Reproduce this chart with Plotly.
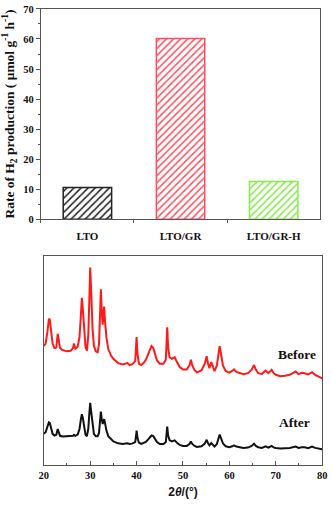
import plotly.graph_objects as go

# H2 production rate per sample (μmol g^-1 h^-1)
samples = ["LTO", "LTO/GR", "LTO/GR-H"]
rates = [10.6, 60.2, 12.6]
bar_colors = ["#222222", "#ff4f5f", "#86ea4c"]

# XRD patterns: 2θ (degrees) and offset-stacked intensities (a.u.)
two_theta = [20, 20.4, 20.8, 21.1, 21.3, 21.6, 21.9, 22.3, 22.7, 23.0, 23.2, 23.5, 24, 25,
             25.8, 26.3, 26.5, 26.8, 27.3, 27.7, 28.0, 28.2, 28.4, 28.7, 29.0, 29.3, 29.6,
             29.8, 30.0, 30.2, 30.5, 30.8, 31.2, 31.6, 31.9, 32.1, 32.3, 32.5, 32.7, 32.9,
             33.0, 33.2, 33.5, 33.9, 34.5, 35, 36, 37, 38, 38.5, 39, 39.7, 39.9, 40.0, 40.2,
             40.5, 41, 41.5, 42, 42.5, 42.9, 43.2, 43.6, 44.0, 44.4, 45, 45.8, 46.3, 46.5,
             46.6, 46.8, 47.1, 47.6, 48.2, 48.7, 49.3, 50, 50.8, 51.4, 51.7, 52.0, 52.5, 53,
             54, 54.7, 55.1, 55.4, 55.7, 56.1, 56.4, 56.8, 57.3, 57.6, 57.9, 58.2, 58.6, 59.2,
             60, 60.6, 61, 61.5, 62, 63, 64, 64.8, 65.3, 65.7, 66.2, 67, 67.8, 68.4, 69.1,
             69.6, 70, 71, 72, 73, 74.3, 74.9, 75.6, 76.2, 77, 77.8, 78.5, 79.3, 80]
before = [365, 372, 410, 448, 445, 405, 372, 358, 360, 402, 385, 358, 352, 348,
          350, 358, 372, 356, 362, 392, 460, 512, 480, 400, 360, 350, 400,
          500, 605, 540, 420, 365, 348, 345, 370, 450, 538, 470, 430, 470,
          485, 440, 390, 355, 335, 325, 312, 308, 312, 306, 308, 318, 360, 392, 340,
          310, 306, 312, 322, 340, 358, 364, 358, 340, 320, 310, 310, 322, 390,
          422, 360, 330, 325, 330, 315, 300, 292, 292, 305, 322, 305, 290, 283,
          290, 310, 333, 310, 296, 315, 300, 287, 305, 340, 364, 340, 305, 288,
          283, 288, 293, 285, 282, 278, 281, 292, 306, 292, 281, 279, 289, 281, 291,
          280, 276, 272, 273, 276, 286, 278, 282, 281, 277, 284, 276, 271, 265]
after = [95, 100, 118, 130, 128, 110, 95, 90, 92, 110, 102, 89, 87, 87,
         88, 89, 92, 89, 93, 110, 140, 155, 145, 112, 92, 88, 112,
         155, 190, 165, 120, 95, 88, 88, 98, 135, 163, 140, 125, 137,
         140, 128, 105, 88, 78, 72, 66, 64, 66, 64, 65, 70, 90, 105, 82,
         68, 64, 66, 70, 78, 87, 90, 88, 80, 70, 64, 64, 70, 100,
         117, 90, 76, 72, 75, 68, 61, 58, 58, 64, 72, 64, 58, 55,
         57, 65, 77, 66, 60, 67, 61, 56, 64, 82, 93, 82, 66, 57,
         54, 57, 60, 56, 54, 52, 53, 58, 65, 58, 54, 52, 57, 53, 58,
         53, 52, 50, 51, 52, 56, 52, 54, 54, 51, 56, 52, 50, 48]

serif = "Liberation Serif, Times New Roman, serif"
frame = "#555555"
ink = "#111111"
tick_font = dict(family=serif, size=10.5, color=ink, weight="bold")

fig = go.Figure()

fig.add_trace(go.Bar(
    x=samples, y=rates, width=0.52,
    marker=dict(
        color="white",
        line=dict(color=bar_colors, width=1.5),
        pattern=dict(shape="/", fgcolor=bar_colors, bgcolor="white",
                     size=5, solidity=0.3, fillmode="replace"),
    ),
    xaxis="x", yaxis="y", showlegend=False,
))

fig.add_trace(go.Scatter(x=two_theta, y=before, mode="lines",
                         line=dict(color="#ff1a1a", width=2),
                         xaxis="x2", yaxis="y2", showlegend=False))
fig.add_trace(go.Scatter(x=two_theta, y=after, mode="lines",
                         line=dict(color=ink, width=2),
                         xaxis="x2", yaxis="y2", showlegend=False))

fig.update_layout(
    width=333, height=509,
    margin=dict(l=0, r=0, t=0, b=0),
    paper_bgcolor="white", plot_bgcolor="white",
    font=dict(family=serif, color=ink),
    xaxis=dict(domain=[0.111, 0.976], anchor="y", range=[-0.5, 2.5],
               showline=True, mirror=True, linecolor=frame, linewidth=1.2,
               ticks="outside", tickson="boundaries", ticklen=3, tickcolor=frame,
               showgrid=False, ticklabelstandoff=6,
               tickfont=dict(family=serif, size=11, color=ink, weight="bold")),
    yaxis=dict(domain=[0.5697, 0.9921], anchor="x", range=[0, 70],
               dtick=10, ticklabeloverflow="allow",
               showline=True, mirror=True, linecolor=frame, linewidth=1.2,
               ticks="outside", ticklen=4, tickcolor=frame, showgrid=False,
               minor=dict(ticks="outside", ticklen=2, dtick=5, tickcolor=frame),
               tickfont=tick_font,
               title=dict(text="Rate of H<sub>2</sub> production ( μmol g<sup>-1</sup> h<sup>-1</sup>)",
                          font=dict(family=serif, size=13.5, color=ink, weight="bold"),
                          standoff=5)),
    xaxis2=dict(domain=[0.1201, 0.982], anchor="y2", range=[20, 80],
                dtick=10, ticklabeloverflow="allow",
                showline=True, mirror=True, linecolor=frame, linewidth=1.2,
                ticks="inside", ticklen=4, tickcolor=frame, showgrid=False, zeroline=False,
                minor=dict(ticks="inside", ticklen=2, dtick=5, tickcolor=frame),
                tickfont=tick_font,
                title=dict(text="2<i>θ</i>/(°)",
                           font=dict(family="Liberation Sans, Arial, sans-serif", size=12,
                                     color=ink, weight="bold"),
                           standoff=8)),
    yaxis2=dict(domain=[0.0766, 0.4951], anchor="x2", range=[0, 639],
                showline=True, mirror=True, linecolor=frame, linewidth=1.2,
                showticklabels=False, ticks="", showgrid=False, zeroline=False),
    annotations=[
        dict(x=74.6, y=338, xref="x2", yref="y2", text="Before", showarrow=False,
             font=dict(family=serif, size=13.5, color=ink, weight="bold")),
        dict(x=74.1, y=130, xref="x2", yref="y2", text="After", showarrow=False,
             font=dict(family=serif, size=13.5, color=ink, weight="bold")),
    ],
)

fig.write_html("out.html")
